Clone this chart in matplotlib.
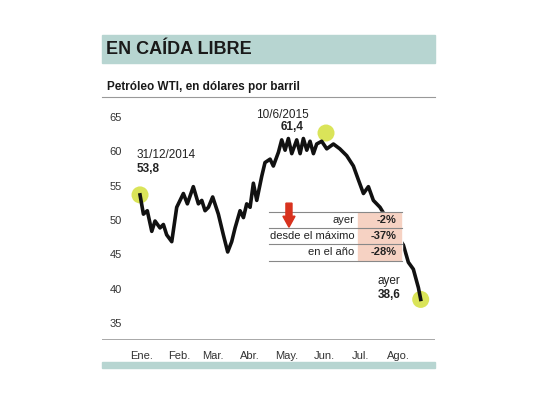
import matplotlib
matplotlib.use("Agg")
import matplotlib.pyplot as plt
from matplotlib.patches import Rectangle, FancyArrow

plt.rcParams['font.family'] = ['Liberation Sans', 'DejaVu Sans']

# WTI price, days since 31/12/2014
days = [0, 2.8, 6, 9.7, 12.4, 16.5, 19.3, 22, 26.2, 30.3, 35.8, 39.1, 44, 48.2, 51, 53.7,
        56.5, 60, 64.7, 68.8, 72.4, 75.7, 78.5, 82.6, 85.4, 88.1, 90.9, 93.6, 96.4,
        100.5, 103.2, 107.4, 110.1, 114.3, 117, 119.8, 122.5, 125.3, 129.4, 132.2,
        134.9, 137.7, 140.4, 143.2, 145.9, 150, 154.2, 159.7, 165, 170.7, 176.2,
        180.3, 184.5, 188.6, 192.7, 198.2, 205, 212, 217.5, 221.6, 225.7, 229.9, 231.8]
price = [53.8, 51, 51.5, 48.5, 50, 49, 49.5, 48, 47, 52, 54, 52.5, 55, 52.5, 53, 51.5,
         52, 53.5, 51, 48, 45.5, 47, 49, 51.5, 50.5, 52.5, 52, 55.5, 53, 56.5, 58.5,
         59, 58, 60, 61.8, 60.3, 62, 59.8, 61.8, 59.8, 62, 60.3, 61.6, 59.8, 61.2,
         61.6, 60.5, 61.2, 60.5, 59.5, 58, 56, 54, 55, 53, 52, 50, 48, 46.5, 44,
         43, 40.3, 38.6]
month_pos = [1, 32, 60, 91, 121, 152, 182, 213]
month_lab = ['Ene.', 'Feb.', 'Mar.', 'Abr.', 'May.', 'Jun.', 'Jul.', 'Ago.']
y_ticks = [35, 40, 45, 50, 55, 60, 65]
rows = ['ayer', 'desde el máximo', 'en el año']
changes = ['-2%', '-37%', '-28%']

teal = '#b7d5d1'
dot = '#d4e03c'

fig = plt.figure(figsize=(5.4, 4.05), dpi=100)
fig.patches.append(Rectangle((102/540, 1-63/405), 333/540, 28/405,
                             transform=fig.transFigure, color=teal))
fig.patches.append(Rectangle((102/540, 1-368/405), 333/540, 6/405,
                             transform=fig.transFigure, color=teal))
fig.text(106/540, 1-49/405, 'EN CAÍDA LIBRE', fontsize=13, fontweight='bold',
         color='#1a1a1a', va='center')
fig.text(107/540, 1-87/405, 'Petróleo WTI, en dólares por barril', fontsize=8.5,
         fontweight='bold', color='#1a1a1a', va='center')
fig.add_artist(plt.Line2D([102/540, 435/540], [1-97/405, 1-97/405], color='#999999', lw=0.8))

ax = fig.add_axes([102/540, 65/405, 333/540, 240/405])
ax.set_xlim(-31.4, 243.6)
ax.set_ylim(32.7, 67.6)
for s in ax.spines.values():
    s.set_visible(False)
ax.axhline(32.7, color='#999999', lw=1.2)
ax.set_yticks([])
ax.set_xticks(month_pos)
ax.set_xticklabels(month_lab, fontsize=8, color='#333333')
ax.tick_params(axis='x', length=0, pad=8)
for v in y_ticks:
    ax.text(-19.8, v, str(v), ha='center', va='center', fontsize=8, color='#333333')

ax.plot(days, price, color='#111111', lw=2.6, zorder=3)
for x, y in [(days[0], price[0]), (153.6, 62.8), (days[-1], price[-1])]:
    ax.scatter([x], [y], s=150, color=dot, alpha=0.85, zorder=2, edgecolors='none')

ax.text(-2.5, 59.2, '31/12/2014', fontsize=8.5, color='#222222')
ax.text(-2.5, 57.2, '53,8', fontsize=8.5, fontweight='bold', color='#222222')
ax.text(96, 65.0, '10/6/2015', fontsize=8.5, color='#222222')
ax.text(135, 63.2, '61,4', fontsize=8.5, fontweight='bold', color='#222222', ha='right')
ax.text(215, 40.8, 'ayer', fontsize=8.5, color='#222222', ha='right')
ax.text(215, 38.8, '38,6', fontsize=8.5, fontweight='bold', color='#222222', ha='right')

# table
tx0, tx1, tx2 = 106.5, 180, 216
row_top = [51.3, 49.0, 46.6]
row_h = 2.35
ax.add_patch(Rectangle((tx0, 44.25), tx2 - tx0, 7.05, color='white', zorder=4))
for i, (lab, ch) in enumerate(zip(rows, changes)):
    yt = row_top[i]
    ax.add_patch(Rectangle((tx1, yt - row_h + 0.1), tx2 - tx1 - 0.5, row_h - 0.2,
                           color='#f6d2c3', zorder=5))
    ax.plot([tx0, tx2], [yt, yt], color='#888888', lw=0.8, zorder=6)
    ax.text(tx1 - 3, yt - row_h / 2, lab, ha='right', va='center', fontsize=8,
            color='#222222', zorder=6)
    ax.text(tx2 - 4, yt - row_h / 2, ch, ha='right', va='center', fontsize=8,
            fontweight='bold', color='#222222', zorder=6)
ax.plot([tx0, tx2], [44.25, 44.25], color='#888888', lw=0.8, zorder=6)
ax.add_patch(FancyArrow(123, 52.6, 0, -1.9, width=5, head_width=10, head_length=1.6,
                        length_includes_head=False, color='#d8321e', zorder=7))

fig.savefig('out.png', dpi=100)
